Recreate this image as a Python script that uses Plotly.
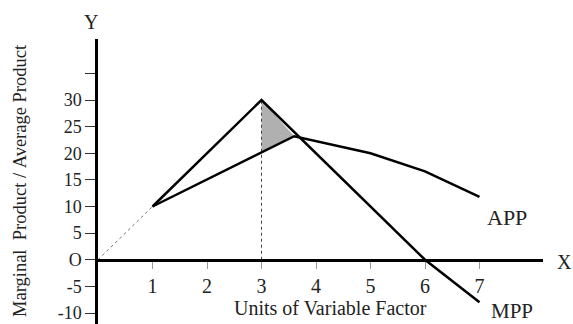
import numpy as np
import plotly.graph_objects as go

# Data
mpp_x = [1, 3, 6, 7]
mpp_y = [10, 30, 0, -8]
app_x = [1, 3.6, 5, 6, 7]
app_y = [10, 23.2, 20, 16.6, 11.8]
origin_x = [0, 1]
origin_y = [0, 10]
x_ticks = [1, 2, 3, 4, 5, 6, 7]
y_ticks = [-10, -5, 0, 5, 10, 15, 20, 25, 30, 35]
y_ticktext = ["-10", "-5", "O", "5", "10", "15", "20", "25", "30", ""]

FONT = "Liberation Serif"

# Derived: shaded area between MPP and APP from the MPP peak to their meeting point
peak_i = int(np.argmax(mpp_y))
x_peak = mpp_x[peak_i]
y_peak = mpp_y[peak_i]
app_at_peak = float(np.interp(x_peak, app_x, app_y))
meet_i = int(np.argmax(app_y))
tri_x = [x_peak, x_peak, app_x[meet_i], x_peak]
tri_y = [y_peak, app_at_peak, app_y[meet_i], y_peak]

fig = go.Figure()

fig.add_trace(go.Scatter(x=tri_x, y=tri_y, fill="toself", fillcolor="#b0b0b0",
                         line=dict(width=0), mode="lines", hoverinfo="skip"))
fig.add_trace(go.Scatter(x=origin_x, y=origin_y, mode="lines",
                         line=dict(color="#777", width=1, dash="dot")))
fig.add_trace(go.Scatter(x=[x_peak, x_peak], y=[0, y_peak], mode="lines",
                         line=dict(color="#444", width=1, dash="dot")))
fig.add_trace(go.Scatter(x=mpp_x, y=mpp_y, mode="lines",
                         line=dict(color="black", width=2.5)))
fig.add_trace(go.Scatter(x=app_x, y=app_y, mode="lines",
                         line=dict(color="black", width=2.5)))

W, H = 573, 324
x0_px, x_end_px, px_per_x = 98, 543, 54.5
y0_px, y_top_px, px_per_y = 259.75, 39, 5.325

y_bottom = -(H - y0_px) / px_per_y
y_top = (y0_px - y_top_px) / px_per_y

fig.update_layout(
    width=W, height=H,
    margin=dict(l=0, r=0, t=0, b=0),
    paper_bgcolor="white", plot_bgcolor="white",
    showlegend=False,
    font=dict(family=FONT, color="#222"),
    xaxis=dict(
        domain=[x0_px / W, x_end_px / W],
        range=[0, (x_end_px - x0_px) / px_per_x],
        anchor="free", position=(H - y0_px) / H,
        showline=True, linecolor="black", linewidth=2.5,
        tickvals=x_ticks, ticks="outside", ticklen=7, tickcolor="#999", tickwidth=1,
        tickfont=dict(family=FONT, size=20, color="#222"),
        showgrid=False, zeroline=False,
    ),
    yaxis=dict(
        domain=[0, (H - y_top_px) / H],
        range=[y_bottom, y_top],
        anchor="x",
        showline=True, linecolor="black", linewidth=2.5,
        tickvals=y_ticks, ticktext=y_ticktext, ticks="outside", ticklen=10,
        tickcolor="#333", tickwidth=1,
        tickfont=dict(family=FONT, size=18, color="#222"),
        showgrid=False, zeroline=False,
    ),
)


def px(xw, yw):
    return xw / W, 1 - yw / H


ann = []
for text, (xw, yw), size, angle in [
    ("APP", (507, 217), 22, 0),
    ("MPP", (512, 311), 21, 0),
    ("Units of Variable Factor", (330, 308), 20, 0),
    ("X", (564, 262), 20, 0),
    ("Y", (91, 22), 20, 0),
    ("Marginal\u00a0\u00a0Product\u00a0/\u00a0Average\u00a0Product", (20, 181), 18.5, -90),
]:
    xp, yp = px(xw, yw)
    ann.append(dict(x=xp, y=yp, xref="paper", yref="paper", text=text, textangle=angle,
                    showarrow=False, xanchor="center", yanchor="middle",
                    font=dict(family=FONT, size=size, color="#222")))
fig.update_layout(annotations=ann)

fig.write_html(
    "out.html",
    config={"displayModeBar": False},
    post_script="document.body.style.margin='0';document.body.style.overflow='hidden';",
)
